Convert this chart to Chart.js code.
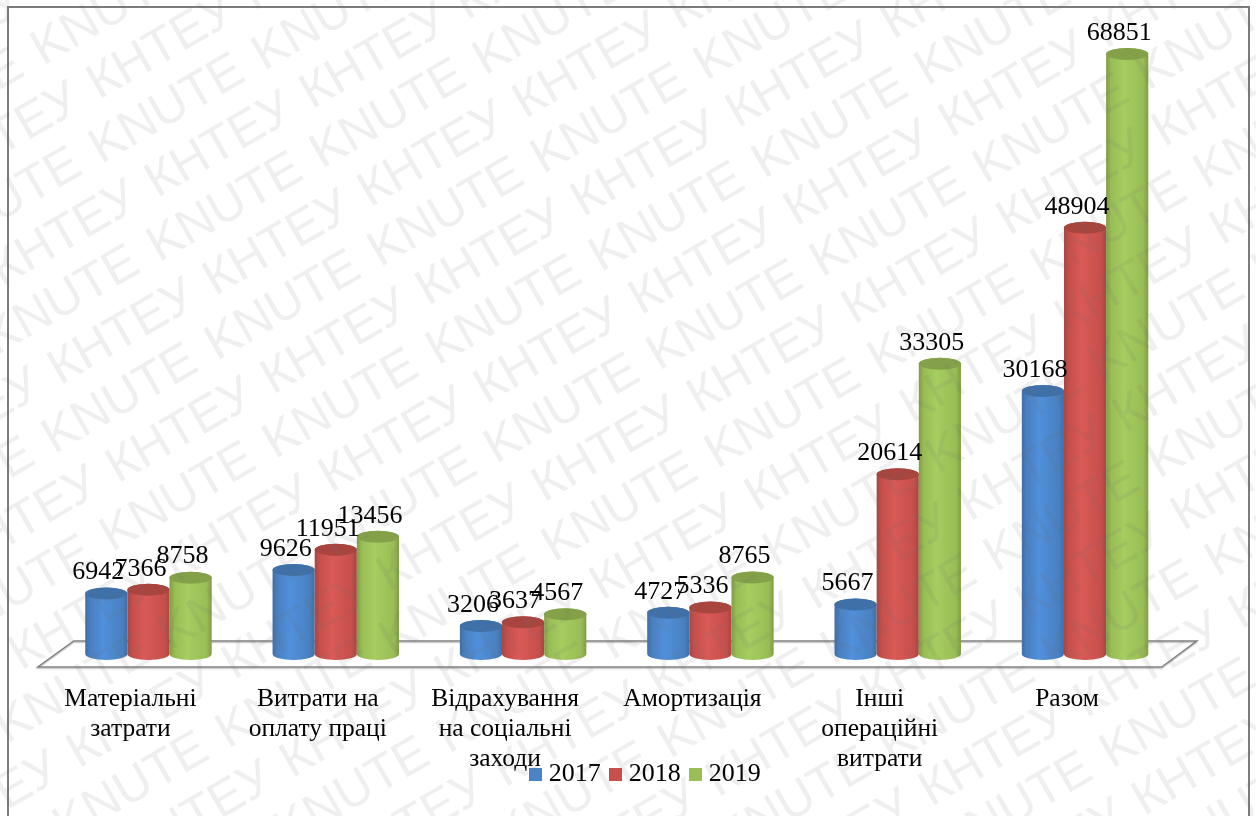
<!DOCTYPE html>
<html>
<head>
<meta charset="utf-8">
<title>Витрати</title>
<script src="https://cdn.jsdelivr.net/npm/chart.js@4"></script>
<style>
  html, body { margin:0; padding:0; background:#fff; }
  canvas { display:block; }
</style>
</head>
<body>
<canvas id="chart" width="1256" height="816"></canvas>
<script>
const categories = [
  ['Матеріальні','затрати'],
  ['Витрати на','оплату праці'],
  ['Відрахування','на соціальні','заходи'],
  ['Амортизація'],
  ['Інші','операційні','витрати'],
  ['Разом']
];
const years = ['2017','2018','2019'];
const values2017 = [6942, 9626, 3206, 4727, 5667, 30168];
const values2018 = [7366, 11951, 3637, 5336, 20614, 48904];
const values2019 = [8758, 13456, 4567, 8765, 33305, 68851];

const baseColors = ['#4a84c6','#c8504c','#9abe56'];
// edge, mid, highlight, lid colours of each cylinder
const shades = [
  ['#3f6ea6','#4a80c0','#5090dc','#3f70a8'],
  ['#a54743','#c64f4b','#d95a56','#a8453f'],
  ['#7f9c45','#98bd55','#a6cd60','#84a149']
];
const RY = 6;
const FONT = '"Liberation Serif", "Times New Roman", serif';

// legend marker sits closer to its text than the library's gap allows
const markers = baseColors.map(c => {
  const m = document.createElement('canvas');
  m.width = m.height = 13;
  const mc = m.getContext('2d');
  mc.fillStyle = c;
  mc.fillRect(0, 0, 13, 13);
  return m;
});

const drawCylinder = (ctx, bar, shade) => {
  const rx = bar.width / 2, x = bar.x, top = bar.y, base = bar.base;
  const g = ctx.createLinearGradient(x - rx, 0, x + rx, 0);
  g.addColorStop(0, shade[0]);
  g.addColorStop(0.12, shade[1]);
  g.addColorStop(0.42, shade[2]);
  g.addColorStop(0.88, shade[1]);
  g.addColorStop(1, shade[0]);
  ctx.beginPath();
  ctx.moveTo(x - rx, top);
  ctx.lineTo(x - rx, base);
  ctx.ellipse(x, base, rx, RY, 0, Math.PI, 0, true);
  ctx.lineTo(x + rx, top);
  ctx.ellipse(x, top, rx, RY, 0, 0, Math.PI, true);
  ctx.closePath();
  ctx.fillStyle = g;
  ctx.fill();
  ctx.beginPath();
  ctx.ellipse(x, top, rx, RY, 0, 0, Math.PI * 2);
  ctx.fillStyle = shade[3];
  ctx.fill();
};

const cylinders = {
  id:'cylinders',
  afterLayout(chart) {
    // legend overlaps the axis labels in the original
    const lg = chart.legend;
    lg.left += 31; lg.right += 31;
    lg.top = 747; lg.bottom = 801;
    chart.scales.x.bottom = chart.height;
  },
  beforeDraw(chart) {
    const { ctx, width, height } = chart;
    ctx.save();
    ctx.fillStyle = '#fff';
    ctx.fillRect(0, 0, width, height);
    ctx.strokeStyle = '#7c7c7c';
    ctx.lineWidth = 2;
    ctx.beginPath();
    ctx.moveTo(8, height);
    ctx.lineTo(8, 7);
    ctx.lineTo(1249, 7);
    ctx.lineTo(1249, height);
    ctx.stroke();
    ctx.restore();
  },
  beforeDatasetsDraw(chart) {
    const { ctx, chartArea:a } = chart;
    const y0 = chart.scales.y.getPixelForValue(0);
    const floor = (dy, color, w) => {
      ctx.beginPath();
      ctx.moveTo(a.left + 19, y0 - 13 + dy);
      ctx.lineTo(a.right + 18, y0 - 13 + dy);
      ctx.lineTo(a.right - 17, y0 + 13 + dy);
      ctx.lineTo(a.left - 17, y0 + 13 + dy);
      ctx.closePath();
      ctx.strokeStyle = color;
      ctx.lineWidth = w;
      ctx.stroke();
    };
    ctx.save();
    floor(1.5, '#cfcfcf', 1.5);
    floor(0, '#808080', 1.5);
    chart.data.datasets.forEach((ds, i) => {
      chart.getDatasetMeta(i).data.forEach(bar => drawCylinder(ctx, bar, shades[i]));
    });
    ctx.restore();
  },
  beforeDatasetDraw() { return false; },
  afterDatasetsDraw(chart) {
    const { ctx } = chart;
    ctx.save();
    ctx.font = '26px ' + FONT;
    ctx.fillStyle = '#000';
    ctx.textAlign = 'center';
    ctx.textBaseline = 'middle';
    chart.data.datasets.forEach((ds, i) => {
      chart.getDatasetMeta(i).data.forEach((bar, j) => {
        ctx.fillText(String(ds.data[j]), bar.x - 8, bar.y - 21);
      });
    });
    ctx.restore();
  },
  afterDraw(chart) {
    const { ctx, width, height } = chart;
    const stamp = (text, ox, oy, hx, hy) => {
      for (let i = -8; i < 10; i++) {
        for (let j = -8; j < 12; j++) {
          const x = ox + i * hx + j * 58, y = oy + i * hy + j * 98.3;
          if (x < -200 || x > width + 200 || y < -50 || y > height + 200) continue;
          ctx.save();
          ctx.translate(x, y);
          ctx.rotate(-30 * Math.PI / 180);
          ctx.fillText(text, 0, 0);
          ctx.restore();
        }
      }
    };
    ctx.save();
    ctx.font = '50px "Liberation Sans", Arial, sans-serif';
    ctx.fillStyle = 'rgba(110,110,110,0.11)';
    ctx.textBaseline = 'alphabetic';
    stamp('KNUTE', 43, 66, 221, 5);
    stamp('КНТЕУ', 99, 100, 213, 9.5);
    ctx.restore();
  }
};

new Chart(document.getElementById('chart'), {
  type:'bar',
  data:{
    labels: categories,
    datasets:[
      { label:years[0], data:values2017, backgroundColor:baseColors[0] },
      { label:years[1], data:values2018, backgroundColor:baseColors[1] },
      { label:years[2], data:values2019, backgroundColor:baseColors[2] }
    ]
  },
  options:{
    responsive:false, animation:false,
    layout:{ padding:{ top:26.5, left:54.8, right:77.3, bottom:12 } },
    datasets:{ bar:{ categoryPercentage:0.675, barPercentage:1 } },
    plugins:{
      tooltip:{ enabled:false },
      legend:{
        position:'bottom',
        labels:{
          usePointStyle:true, pointStyleWidth:1, padding:14, color:'#000',
          font:{ family:FONT, size:26 },
          generateLabels:(chart) => Chart.defaults.plugins.legend.labels.generateLabels(chart)
            .map((item, i) => ({ ...item, pointStyle:markers[i] }))
        }
      }
    },
    scales:{
      x:{
        grid:{ display:false }, border:{ display:false },
        afterFit(scale) { scale.height = 100; },
        ticks:{ color:'#000', padding:22, labelOffset:-18, maxRotation:0, autoSkip:false, font:{ family:FONT, size:25.5, lineHeight:1.176 } }
      },
      y:{ display:false, min:0, max:72000 }
    }
  },
  plugins:[cylinders]
});
</script>
</body>
</html>
